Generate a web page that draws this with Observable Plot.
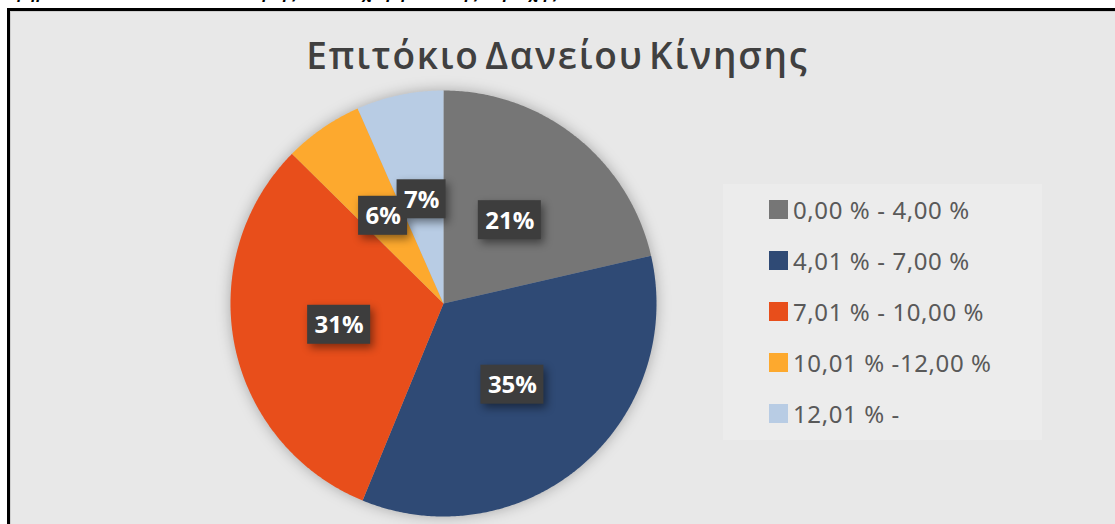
<!DOCTYPE html>
<html>
<head>
<meta charset="utf-8">
<script src="https://cdn.jsdelivr.net/npm/d3@7"></script>
<script src="https://cdn.jsdelivr.net/npm/@observablehq/plot@0.6"></script>
<style>
  html, body { margin: 0; padding: 0; background: #ffffff; }
  #wrap { position: relative; width: 1115px; height: 524px; overflow: hidden; background: #ffffff; font-family: "Noto Sans", "Open Sans", sans-serif; }
  #caption { position: absolute; left: -14px; top: -19px; font: italic bold 16px "Noto Sans", sans-serif; color: #000; white-space: nowrap; letter-spacing: 0.5px; }
  #frame { position: absolute; left: 7px; top: 8px; width: 1120px; height: 530px; border: 3px solid #000; box-sizing: border-box; }
  #area { position: absolute; left: 10px; top: 11px; width: 1115px; height: 520px; background: #e8e8e8; border-left: 1px solid #cfcfcf; border-top: 1px solid #cfcfcf; box-sizing: border-box; }
  #chart { position: absolute; left: 0; top: 0; }
  #title { position: absolute; left: 0; width: 1115px; top: 36px; text-align: center; font-size: 37px; line-height: 37px; font-weight: 600; letter-spacing: 1.8px; word-spacing: -6px; color: #404040; font-family: "Open Sans", "Noto Sans", sans-serif; }
  #legend { position: absolute; left: 723px; top: 184px; width: 319px; height: 256px; background: #ececec; }
  .item { position: absolute; left: 46px; height: 30px; display: flex; align-items: center; font-size: 24px; letter-spacing: 0.6px; color: #595959; white-space: nowrap; }
  .sw { width: 19px; height: 19px; margin-right: 5px; flex: none; }
</style>
</head>
<body>
<div id="wrap">
  <div id="caption">Γράφημα 11: Επιτόκιο δανείου κίνησης των επιχειρήσεων της περιοχής</div>
  <div id="area"></div>
  <div id="frame"></div>
  <div id="chart"></div>
  <div id="title">Επιτόκιο Δανείου Κίνησης</div>
  <div id="legend"></div>
</div>
<script>
// ---- data ----
const categories = ["0,00 % - 4,00 %", "4,01 % - 7,00 %", "7,01 % - 10,00 %", "10,01 % -12,00 %", "12,01 % -"];
const shares = [21.4, 34.8, 31.2, 6.0, 6.6];
const labels = ["21%", "35%", "31%", "6%", "7%"];
const colors = ["#767676", "#2f4a75", "#e84e1b", "#fda92e", "#b8cce4"];

// ---- geometry from values ----
const R_PX = 213; // pie radius in pixels
const arcs = d3.pie().sort(null).value(d => d)(shares);
const poly = [];
arcs.forEach((a, i) => {
  const cat = categories[i];
  poly.push({cat, x: 0, y: 0});
  const n = Math.max(2, Math.ceil((a.endAngle - a.startAngle) / (Math.PI / 360)));
  for (let k = 0; k <= n; k++) {
    const t = a.startAngle + (a.endAngle - a.startAngle) * k / n;
    poly.push({cat, x: Math.sin(t), y: Math.cos(t)});
  }
});
const boxes = arcs.map((a, i) => {
  const m = (a.startAngle + a.endAngle) / 2;
  const cx = 0.5 * Math.sin(m), cy = 0.5 * Math.cos(m);
  const w = (labels[i].length > 2 ? 63 : 49) / R_PX, h = 39 / R_PX;
  return {label: labels[i], cx, cy, x1: cx - w / 2, x2: cx + w / 2, y1: cy - h / 2, y2: cy + h / 2};
});

const chart = Plot.plot({
  width: 1115, height: 524,
  marginLeft: 443 - R_PX, marginRight: 1115 - 443 - R_PX,
  marginTop: 303 - R_PX, marginBottom: 524 - 303 - R_PX,
  x: {domain: [-1, 1], axis: null},
  y: {domain: [-1, 1], axis: null},
  color: {domain: categories, range: colors},
  style: {background: "transparent", overflow: "visible"},
  marks: [
    Plot.line(poly, {x: "x", y: "y", z: "cat", fill: "cat", stroke: "none", curve: "linear-closed"}),
    Plot.rect(boxes, {x1: "x1", x2: "x2", y1: "y1", y2: "y2", fill: "#3d3d3d"}),
    Plot.text(boxes, {x: "cx", y: "cy", text: "label", fill: "#ffffff", fontSize: 24, fontWeight: "bold", fontFamily: "Open Sans", dy: 1})
  ]
});
document.getElementById("chart").appendChild(chart);
const lineG = chart.querySelector('g[aria-label="line"]');
if (lineG) lineG.style.filter = "drop-shadow(0px 0px 7px rgba(0,0,0,0.28))";
const rectG = chart.querySelector('g[aria-label="rect"]');
if (rectG) rectG.style.filter = "drop-shadow(3px 4px 4px rgba(0,0,0,0.45))";

// ---- legend ----
const legend = document.getElementById("legend");
categories.forEach((c, i) => {
  const it = document.createElement("div");
  it.className = "item";
  it.style.top = (26 - 16 + i * 51) + "px";
  const sw = document.createElement("div");
  sw.className = "sw";
  sw.style.background = colors[i];
  const tx = document.createElement("span");
  tx.textContent = c;
  it.appendChild(sw);
  it.appendChild(tx);
  legend.appendChild(it);
});
</script>
</body>
</html>
